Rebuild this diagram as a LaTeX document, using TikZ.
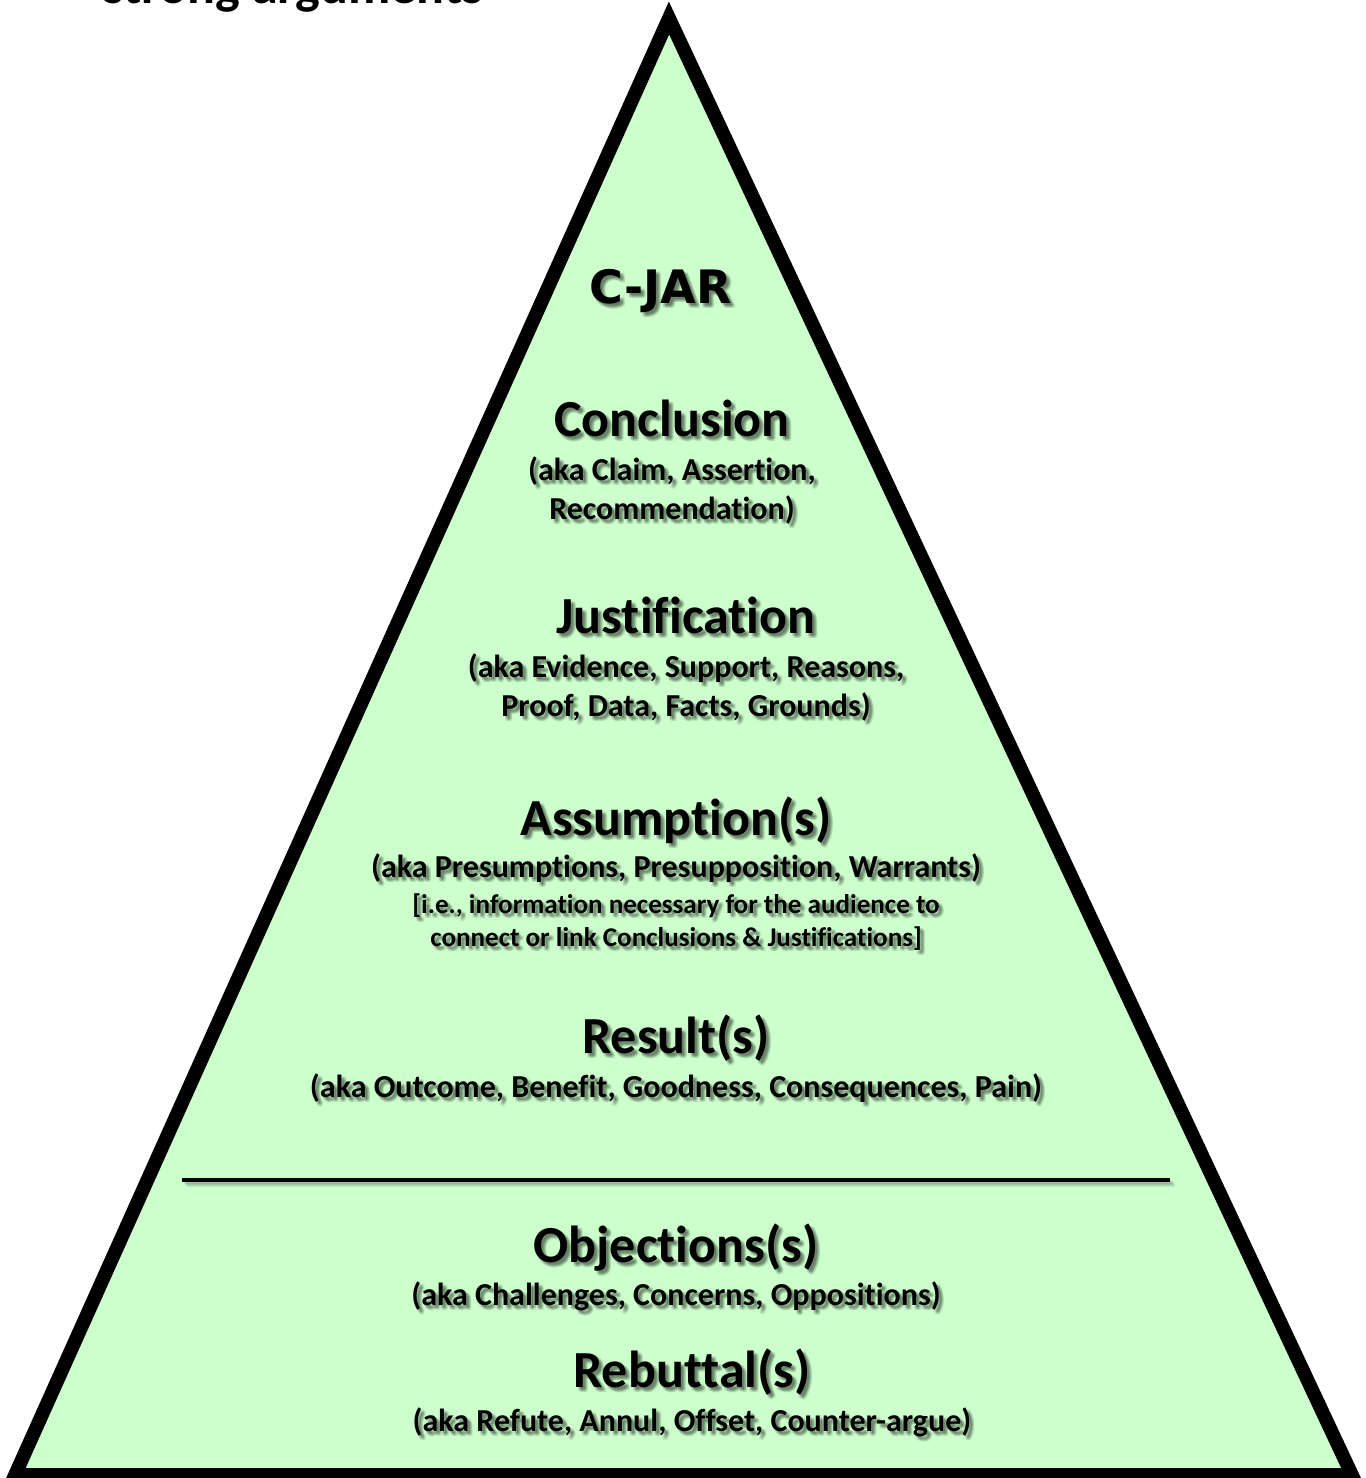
\documentclass[tikz,border=0pt]{standalone}
\usepackage{fontspec}
\setmainfont{Carlito}[Ligatures={NoCommon}]
\newfontfamily\jarfont{DejaVu Sans}
\definecolor{pyramid}{RGB}{204,255,204}

\tikzset{
  heading/.style={anchor=base, inner sep=0pt, font=\fontsize{14.8pt}{17pt}\selectfont\bfseries},
  aka/.style={anchor=base, inner sep=0pt, font=\fontsize{9.1pt}{11pt}\selectfont\bfseries},
  aside/.style={anchor=base, inner sep=0pt, font=\fontsize{7.7pt}{9pt}\selectfont\bfseries},
  acronym/.style={anchor=base, inner sep=0pt, font=\fontsize{13.1pt}{15pt}\selectfont\jarfont\bfseries},
}

% text with a soft drop shadow: name, position, style, text
\newcommand\shadowed[4]{%
  \foreach \dx/\dy in {2/2,3/3,4/4,2/4,4/2,3/5,5/3,5/5}
    \node[#3, text=black, opacity=0.08] at ([shift={(\dx,\dy)}]#2) {#4};
  \node[#3] (#1) at (#2) {#4};
}

\begin{document}
\begin{tikzpicture}[x=0.01cm, y=-0.01cm]

\useasboundingbox (0,0) rectangle (1365,1478);
\clip (0,0) rectangle (1365,1478);

% heading cut off at the top edge
\node[heading, anchor=base west] (head) at (103,3) {strong arguments};

% the pyramid
\draw[line width=3.9pt, fill=pyramid] (669,18) -- (15,1475) -- (1352,1475) -- cycle;

% labels, top to bottom
\shadowed{cjar}{661,303}{acronym}{C-JAR}

\shadowed{concl}{672,436}{heading}{Conclusion}
\shadowed{concla}{672,480}{aka}{(aka Claim, Assertion,}
\shadowed{conclb}{672,519}{aka}{Recommendation)}

\shadowed{just}{686,633}{heading}{Justification}
\shadowed{justa}{686,677}{aka}{(aka Evidence, Support, Reasons,}
\shadowed{justb}{686,716}{aka}{Proof, Data, Facts, Grounds)}

\shadowed{assum}{676,835}{heading}{Assumption(s)}
\shadowed{assuma}{676,877}{aka}{(aka Presumptions, Presupposition, Warrants)}
\shadowed{assumb}{676,913}{aside}{[i.e., information necessary for the audience to}
\shadowed{assumc}{676,946}{aside}{connect or link Conclusions \& Justifications]}

\shadowed{res}{676,1053}{heading}{Result(s)}
\shadowed{resa}{676,1097}{aka}{(aka Outcome, Benefit, Goodness, Consequences, Pain)}

% divider between the argument and its counter-side
\coordinate (divl) at (182,1180);
\coordinate (divr) at (1170,1180);
\foreach \d in {2,3,4,5}
  \draw[line width=0.9pt, black, opacity=0.08] ([shift={(\d,\d)}]divl) -- ([shift={(\d,\d)}]divr);
\draw[line width=0.9pt] (divl) -- (divr);

\shadowed{obj}{676,1262}{heading}{Objections(s)}
\shadowed{obja}{676,1305}{aka}{(aka Challenges, Concerns, Oppositions)}

\shadowed{reb}{692,1387}{heading}{Rebuttal(s)}
\shadowed{reba}{692,1431}{aka}{(aka Refute, Annul, Offset, Counter-argue)}

\end{tikzpicture}
\end{document}
